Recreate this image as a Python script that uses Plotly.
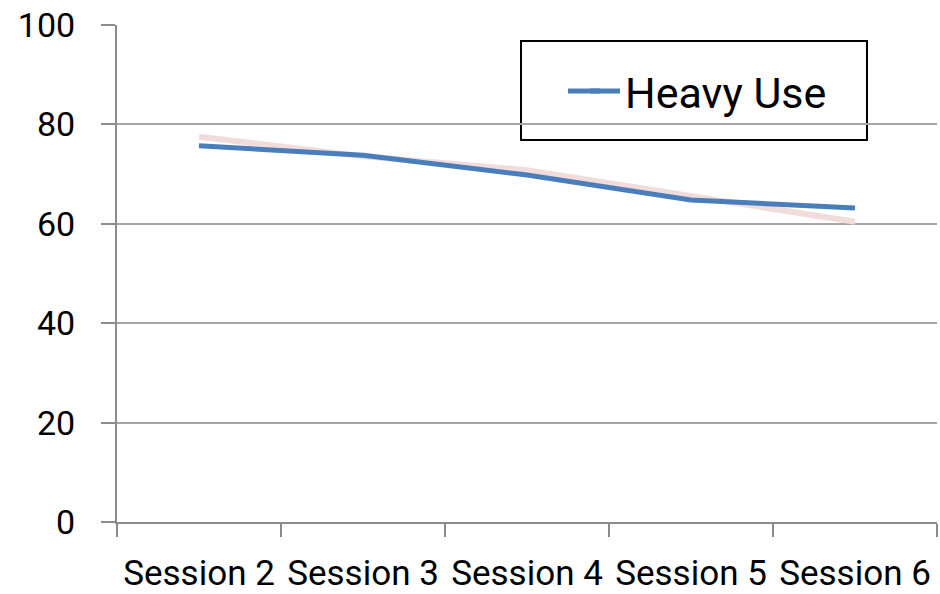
import plotly.graph_objects as go

categories = ["Session 2", "Session 3", "Session 4", "Session 5", "Session 6"]
heavy_use = [75.7, 73.8, 69.8, 64.8, 63.2]
trend = [77.5, 73.6, 70.8, 65.6, 60.4]
y_ticks = [0, 20, 40, 60, 80, 100]

FONT = "Roboto, Arial, sans-serif"

W, H = 940, 594
L, T, R, B = 117, 25, 937, 522
PW, PH = R - L, B - T


def px(x):
    return (x - L) / PW


def py(y):
    return 1 - (y - T) / PH


fig = go.Figure()
fig.add_trace(go.Scatter(x=categories, y=trend, mode="lines", name="Trend",
                         line=dict(color="#F2DCDB", width=6), showlegend=False))
fig.add_trace(go.Scatter(x=categories, y=heavy_use, mode="lines", name="Heavy Use",
                         line=dict(color="#4A7EBB", width=5)))

fig.update_layout(
    width=W, height=H,
    margin=dict(l=L, r=W - R, t=T, b=H - B, autoexpand=False),
    paper_bgcolor="white", plot_bgcolor="white",
    font=dict(family=FONT, size=34, color="black"),
    xaxis=dict(type="category", range=[-0.5, 4.5], tickson="boundaries",
               ticks="outside", ticklen=13, tickcolor="#8C8C8C", tickwidth=2,
               showline=True, linecolor="#8C8C8C", linewidth=2, automargin=False,
               showgrid=False, tickfont=dict(size=35), ticklabelstandoff=19,
               tickangle=0, ticklabeloverflow="allow"),
    yaxis=dict(range=[0, 100], tickvals=y_ticks, ticks="outside", ticklen=14,
               tickcolor="#8C8C8C", tickwidth=2, showline=True, linecolor="#8C8C8C",
               linewidth=2, showgrid=True, gridcolor="#A6A6A6", gridwidth=2,
               zeroline=False, tickfont=dict(size=34), ticklabelstandoff=19,
               automargin=False, ticklabeloverflow="allow"),
    legend=dict(x=px(585), y=py(91), xanchor="left", yanchor="middle",
                bgcolor="rgba(0,0,0,0)", borderwidth=0, font=dict(size=43)),
    shapes=[
        dict(type="rect", xref="paper", yref="paper",
             x0=px(521), x1=px(867), y0=py(140), y1=py(41),
             line=dict(color="black", width=2), fillcolor="white", layer="below"),
        dict(type="line", xref="paper", yref="paper",
             x0=px(568), x1=px(600), y0=py(91), y1=py(91),
             line=dict(color="#4A7EBB", width=5)),
    ],
)

fig.write_html("out.html", config={"displayModeBar": False},
               post_script="document.body.style.margin='0';document.body.style.overflow='hidden';")
